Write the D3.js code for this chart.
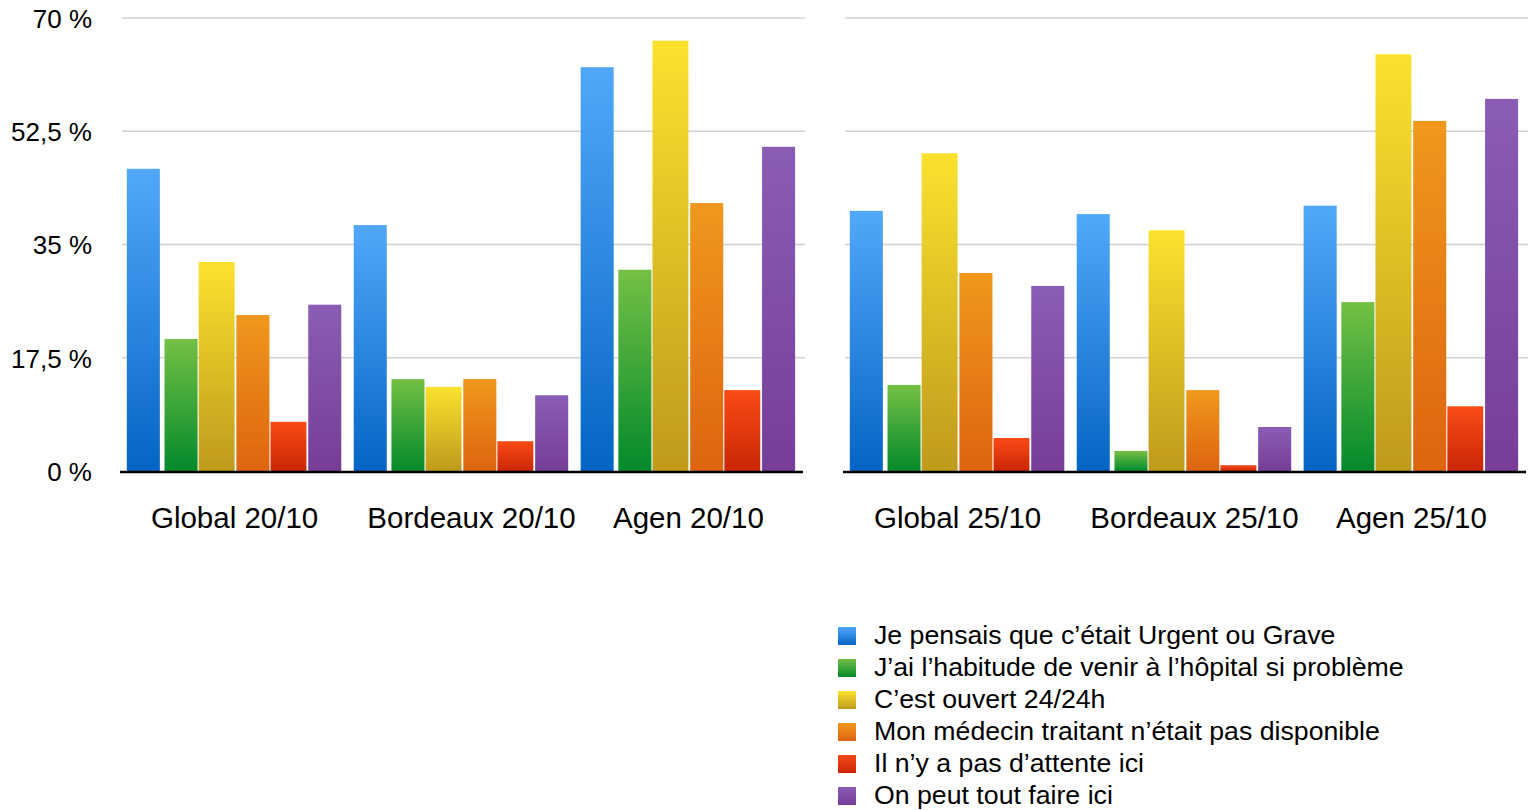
<!DOCTYPE html>
<html>
<head>
<meta charset="utf-8">
<script src="https://cdn.jsdelivr.net/npm/d3@7"></script>
<style>
  html, body { margin: 0; padding: 0; background: #ffffff; }
  svg { display: block; }
  text { font-family: "Liberation Sans", Arial, Helvetica, sans-serif; fill: #000; }
</style>
</head>
<body>
<svg id="chart" width="1531" height="810"></svg>
<script>
// ---- Data ----
const panels = ["20/10", "25/10"];
const categoriesLeft = ["Global 20/10", "Bordeaux 20/10", "Agen 20/10"];
const categoriesRight = ["Global 25/10", "Bordeaux 25/10", "Agen 25/10"];
const seriesNames = [
  "Je pensais que c\u2019était Urgent ou Grave",
  "J\u2019ai l\u2019habitude de venir à l\u2019hôpital si problème",
  "C\u2019est ouvert 24/24h",
  "Mon médecin traitant n\u2019était pas disponible",
  "Il n\u2019y a pas d\u2019attente ici",
  "On peut tout faire ici"
];
// values per category (in series order)
const valuesLeft = [
  [46.7, 20.4, 32.3, 24.1, 7.6, 25.7],   // Global 20/10
  [38.0, 14.2, 13.0, 14.2, 4.6, 11.7],   // Bordeaux 20/10
  [62.4, 31.1, 66.5, 41.4, 12.5, 50.1]   // Agen 20/10
];
const valuesRight = [
  [40.2, 13.3, 49.1, 30.6, 5.1, 28.6],   // Global 25/10
  [39.7, 3.1, 37.2, 12.5, 0.9, 6.8],     // Bordeaux 25/10
  [41.0, 26.1, 64.4, 54.1, 10.0, 57.5]   // Agen 25/10
];
const tickValues = [0, 17.5, 35, 52.5, 70];
const tickLabels = ["0 %", "17,5 %", "35 %", "52,5 %", "70 %"];

// ---- Styles ----
const gradTop = ["#52a8fa", "#74c044", "#fbe22e", "#f0981c", "#fa4b16", "#8a5db5"];
const gradBottom = ["#0565c4", "#038a2c", "#bf9a1c", "#dd6410", "#c92606", "#773d98"];
const barOffset = [0.0, 0.05, 0.0, 0.05, 0.0, 0.05];
const barWidth = [0.92, 0.92, 1.0, 0.92, 1.0, 0.92];
const labelShift = [0, 10, 0];

const svg = d3.select("#chart");
const defs = svg.append("defs");
seriesNames.forEach((s, i) => {
  const g = defs.append("linearGradient")
    .attr("id", "grad" + i)
    .attr("x1", 0).attr("y1", 0).attr("x2", 0).attr("y2", 1);
  g.append("stop").attr("offset", "0%").attr("stop-color", gradTop[i]);
  g.append("stop").attr("offset", "100%").attr("stop-color", gradBottom[i]);
});

const y = d3.scaleLinear().domain([0, 70]).range([471, 18]);

const panelDefs = [
  { cats: categoriesLeft, vals: valuesLeft, x0: 120, x1: 803, gx0: 122, labels: true },
  { cats: categoriesRight, vals: valuesRight, x0: 843, x1: 1526, gx0: 845, labels: false }
];

panelDefs.forEach((p) => {
  const g = svg.append("g");
  // gridlines
  g.selectAll("line.grid")
    .data(tickValues.filter(t => t > 0))
    .join("line")
    .attr("class", "grid")
    .attr("x1", p.gx0).attr("x2", p.x1 + 2)
    .attr("y1", d => y(d)).attr("y2", d => y(d))
    .attr("stroke", "#d2d2d2").attr("stroke-width", 1.6);

  const xBand = d3.scaleBand().domain(p.cats).range([p.x0, p.x1])
    .paddingInner(0.05).paddingOuter(0.03);
  const xInner = d3.scaleBand().domain(d3.range(seriesNames.length))
    .range([0, xBand.bandwidth()]).padding(0);

  p.cats.forEach((c, ci) => {
    const grp = g.append("g").attr("transform", `translate(${xBand(c)},0)`);
    grp.selectAll("rect")
      .data(p.vals[ci].map((v, si) => ({ v, si })))
      .join("rect")
      .attr("x", d => xInner(d.si) + barOffset[d.si] * xInner.bandwidth())
      .attr("width", d => barWidth[d.si] * xInner.bandwidth())
      .attr("y", d => y(d.v))
      .attr("height", d => y(0) - y(d.v))
      .attr("fill", d => `url(#grad${d.si})`);
  });

  // axis line
  g.append("line")
    .attr("x1", p.x0).attr("x2", p.x1)
    .attr("y1", y(0) + 1).attr("y2", y(0) + 1)
    .attr("stroke", "#000").attr("stroke-width", 2.5);

  // category labels
  const xAxis = d3.axisBottom(xBand).tickSize(0).tickPadding(0);
  const ax = g.append("g").attr("transform", "translate(0,528)").call(xAxis);
  ax.select(".domain").remove();
  ax.selectAll("text")
    .attr("y", 0).attr("dy", 0)
    .attr("x", (d, i) => labelShift[i])
    .style("font-size", "29.5px")
    .style("font-family", '"Liberation Sans", Arial, Helvetica, sans-serif')
    .attr("fill", "#000");

  if (p.labels) {
    const yAxis = d3.axisLeft(y).tickValues(tickValues)
      .tickFormat((d, i) => tickLabels[i]).tickSize(0).tickPadding(0);
    const ay = g.append("g").attr("transform", "translate(92,0)").call(yAxis);
    ay.select(".domain").remove();
    ay.selectAll("text")
      .attr("dy", "0.36em")
      .style("font-size", "26px")
      .style("font-family", '"Liberation Sans", Arial, Helvetica, sans-serif')
      .attr("fill", "#000");
  }
});

// legend
const legend = svg.append("g").attr("transform", "translate(838,627)");
const items = legend.selectAll("g.item")
  .data(seriesNames)
  .join("g")
  .attr("class", "item")
  .attr("transform", (d, i) => `translate(0,${i * 32})`);
items.append("rect")
  .attr("width", 18).attr("height", 18)
  .attr("fill", (d, i) => `url(#grad${i})`);
items.append("text")
  .attr("x", 36).attr("y", 17)
  .style("font-size", "26.7px")
  .text(d => d);
</script>
</body>
</html>
